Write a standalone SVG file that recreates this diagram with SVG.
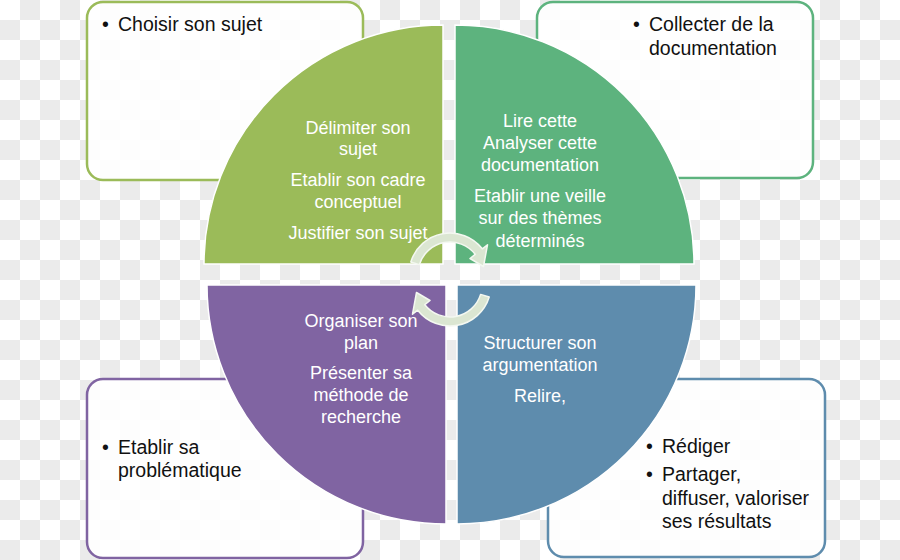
<svg xmlns="http://www.w3.org/2000/svg" width="900" height="560" viewBox="0 0 900 560">
  <defs>
    <pattern id="checker" x="0" y="0" width="40" height="40" patternUnits="userSpaceOnUse">
      <rect x="0" y="0" width="40" height="40" fill="#ffffff"/>
      <rect x="20" y="0" width="20" height="20" fill="#ebebeb"/>
      <rect x="0" y="20" width="20" height="20" fill="#ebebeb"/>
    </pattern>
    <style>
      .box { fill: #ffffff; fill-opacity: 0.88; stroke-width: 2.5; }
      .btxt { font-family: "Liberation Sans", Arial, sans-serif; font-size: 19.5px; fill: #111111; }
      .qtxt { font-family: "Liberation Sans", Arial, sans-serif; font-size: 18px; fill: #ffffff; text-anchor: middle; }
      .quad { stroke: #ffffff; stroke-width: 1.5; }
      .arrow { fill: #dbe6d2; stroke: #f4f8f1; stroke-width: 1.5; stroke-linejoin: round; }
    </style>
  </defs>

  <rect x="0" y="0" width="900" height="560" fill="url(#checker)"/>

  <!-- Side boxes -->
  <g id="box-tl">
    <rect class="box" x="87" y="2" width="276" height="178" rx="16" stroke="#9bbb59"/>
    <text class="btxt" x="102" y="31">•</text>
    <text class="btxt" x="118" y="31">Choisir son sujet</text>
  </g>
  <g id="box-tr">
    <rect class="box" x="537" y="2" width="276" height="176" rx="16" stroke="#5db37e"/>
    <text class="btxt" x="633" y="31">•</text>
    <text class="btxt" x="649" y="31">Collecter de la</text>
    <text class="btxt" x="649" y="55">documentation</text>
  </g>
  <g id="box-bl">
    <rect class="box" x="87" y="379" width="276" height="179" rx="16" stroke="#8064a2"/>
    <text class="btxt" x="102" y="454">•</text>
    <text class="btxt" x="118" y="454">Etablir sa</text>
    <text class="btxt" x="118" y="477">problématique</text>
  </g>
  <g id="box-br">
    <rect class="box" x="548" y="379" width="277" height="178" rx="16" stroke="#5e8cad"/>
    <text class="btxt" x="646" y="453">•</text>
    <text class="btxt" x="662" y="453">Rédiger</text>
    <text class="btxt" x="646" y="481">•</text>
    <text class="btxt" x="662" y="481">Partager,</text>
    <text class="btxt" x="662" y="505">diffuser, valoriser</text>
    <text class="btxt" x="662" y="528">ses résultats</text>
  </g>

  <!-- Quadrants -->
  <g id="quad-tl">
    <path class="quad" fill="#9bbb59" d="M443,264 L204,264 A239,239 0 0 1 443,25 Z"/>
    <text class="qtxt" x="358" y="134">Délimiter son</text>
    <text class="qtxt" x="358" y="155">sujet</text>
    <text class="qtxt" x="358" y="186">Etablir son cadre</text>
    <text class="qtxt" x="358" y="208">conceptuel</text>
    <text class="qtxt" x="358" y="239">Justifier son sujet</text>
  </g>
  <g id="quad-tr">
    <path class="quad" fill="#5db37e" d="M455,264 L455,25 A239,239 0 0 1 694,264 Z"/>
    <text class="qtxt" x="540" y="127">Lire cette</text>
    <text class="qtxt" x="540" y="149">Analyser cette</text>
    <text class="qtxt" x="540" y="171">documentation</text>
    <text class="qtxt" x="540" y="202">Etablir une veille</text>
    <text class="qtxt" x="540" y="224">sur des thèmes</text>
    <text class="qtxt" x="540" y="247">déterminés</text>
  </g>
  <g id="quad-bl">
    <path class="quad" fill="#8064a2" d="M446,285 L446,524 A239,239 0 0 1 207,285 Z"/>
    <text class="qtxt" x="361" y="327">Organiser son</text>
    <text class="qtxt" x="361" y="349">plan</text>
    <text class="qtxt" x="361" y="379">Présenter sa</text>
    <text class="qtxt" x="361" y="401">méthode de</text>
    <text class="qtxt" x="361" y="423">recherche</text>
  </g>
  <g id="quad-br">
    <path class="quad" fill="#5e8cad" d="M457,285 L696,285 A239,239 0 0 1 457,524 Z"/>
    <text class="qtxt" x="540" y="349">Structurer son</text>
    <text class="qtxt" x="540" y="371">argumentation</text>
    <text class="qtxt" x="540" y="402">Relire,</text>
  </g>

  <!-- Connectors: circular arrows -->
  <g id="connectors">
    <path id="arrow-top" class="arrow" d="M410.8,262 A41,41 0 0 1 482.3,248.8 L487.5,244.8 L483.5,266.5 L470,258.5 L475.2,254.3 A32,32 0 0 0 419.4,264.6 Z"/>
    <path id="arrow-bottom" class="arrow" transform="rotate(180 450 279.5)" d="M410.8,262 A41,41 0 0 1 482.3,248.8 L487.5,244.8 L483.5,266.5 L470,258.5 L475.2,254.3 A32,32 0 0 0 419.4,264.6 Z"/>
  </g>
</svg>
